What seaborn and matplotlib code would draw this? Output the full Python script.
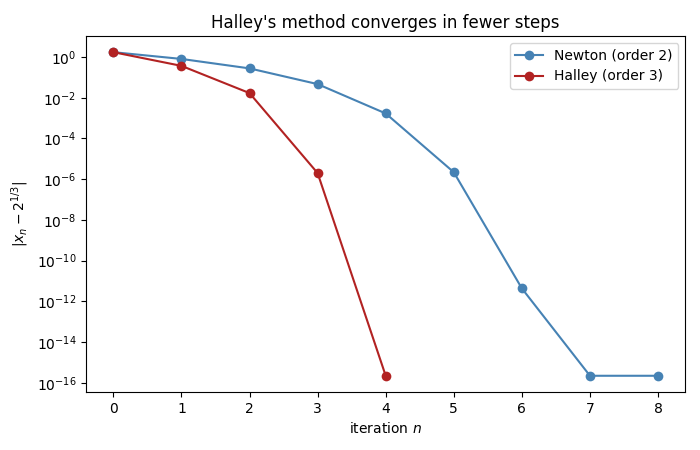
import numpy as np
import pandas as pd
import matplotlib
matplotlib.use("Agg")
import matplotlib.pyplot as plt
import seaborn as sns

# error |x_n - 2^(1/3)|
newton_n = [0, 1, 2, 3, 4, 5, 6, 7, 8]
newton_err = [1.74, 0.81, 0.278, 0.047, 1.7e-3, 2.2e-6, 4.3e-12, 2.2e-16, 2.2e-16]
halley_n = [0, 1, 2, 3, 4]
halley_err = [1.74, 0.37, 1.7e-2, 2.0e-6, 2.2e-16]
ytick_vals = [1e0, 1e-2, 1e-4, 1e-6, 1e-8, 1e-10, 1e-12, 1e-14, 1e-16]

df = pd.concat([
    pd.DataFrame({"n": newton_n, "err": newton_err, "method": "Newton (order 2)"}),
    pd.DataFrame({"n": halley_n, "err": halley_err, "method": "Halley (order 3)"}),
])

fig, ax = plt.subplots(figsize=(7, 4.5), dpi=100)
sns.lineplot(data=df, x="n", y="err", hue="method", marker="o",
             markersize=7, markeredgewidth=0, linewidth=1.5,
             palette={"Newton (order 2)": "steelblue", "Halley (order 3)": "firebrick"},
             ax=ax)
ax.set_yscale("log")
ax.set_yticks(ytick_vals)
ax.yaxis.set_minor_locator(matplotlib.ticker.NullLocator())
ax.set_xlabel("iteration $n$")
ax.set_ylabel(r"$|x_n - 2^{1/3}|$")
ax.set_title("Halley's method converges in fewer steps")
ax.set_xticks(range(9))
ax.legend(title=None, loc="upper right")
fig.subplots_adjust(left=0.123, right=0.979, top=0.92, bottom=0.129)
fig.savefig("out.png", dpi=100)
